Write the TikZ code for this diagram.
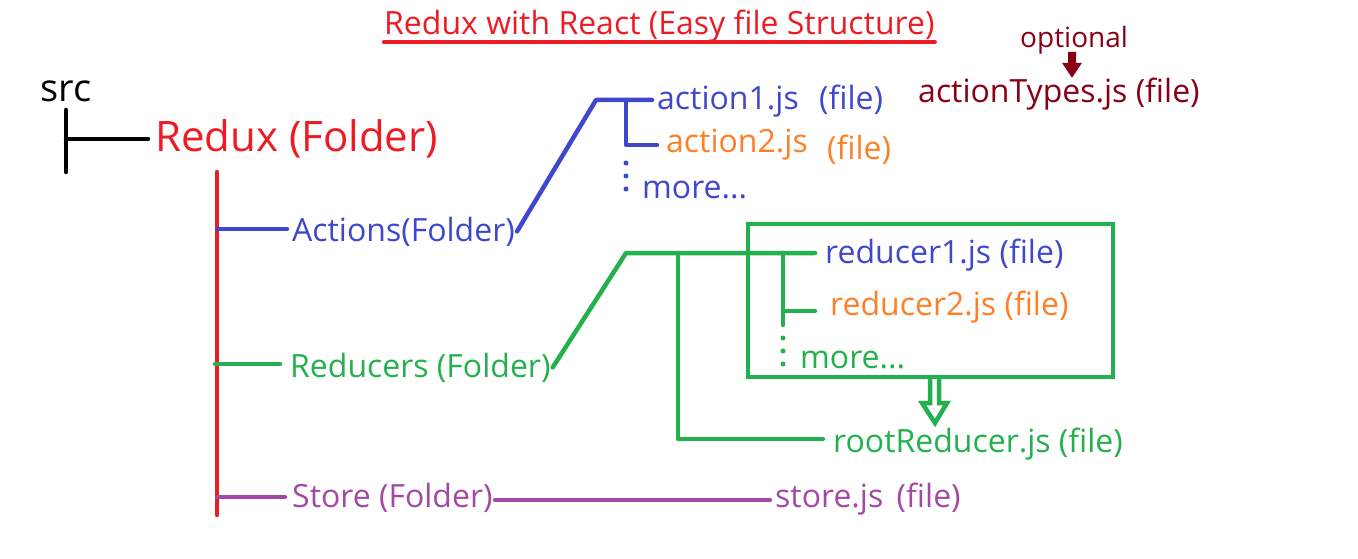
\documentclass[tikz,border=0pt]{standalone}
\usepackage{fontspec}
\setmainfont{Open Sans}
\usetikzlibrary{positioning}
\definecolor{cRed}{HTML}{ED1C24}
\definecolor{cBlue}{HTML}{3F48CC}
\definecolor{cOrange}{HTML}{FF7F27}
\definecolor{cGreen}{HTML}{22B14C}
\definecolor{cPurple}{HTML}{A349A4}
\definecolor{cMaroon}{HTML}{880015}

\begin{document}
\begin{tikzpicture}[
  x=1pt, y=-1pt,
  every node/.style={inner sep=0pt, anchor=base west},
  txt/.style={font=\fontsize{32}{38}\selectfont},
  srctxt/.style={font=\fontsize{38}{44}\selectfont},
  bigtxt/.style={font=\fontsize{42}{50}\selectfont},
  smalltxt/.style={font=\fontsize{28}{34}\selectfont},
  link/.style={line width=4.5pt, line cap=round, line join=round},
  dotline/.style={line width=5pt, line cap=round, dash pattern=on 0pt off 13pt},
  hollow/.style={line width=4.5pt, line join=miter}
]
\useasboundingbox (0,0) rectangle (1358,559);

\node[txt, text=cRed] (title) at (384,35) {Redux with React (Easy file Structure)};
\draw[link, cRed] ([yshift=-7pt]title.base west) -- ([yshift=-7pt]title.base east);

\node[srctxt] (src) at (40,102) {src};
\node[bigtxt, text=cRed] (redux) at (155,152) {Redux (Folder)};
\coordinate (srcTop) at (66,110);
\coordinate (srcMid) at (66,139);
\coordinate (srcBot) at (66,172);
\draw[link] (srcTop) -- (srcBot);
\draw[link] (srcMid) -- ([xshift=-7pt]srcMid -| redux.west);

\node[txt, text=cBlue] (actions) at (292,241) {Actions(Folder)};
\node[txt, text=cGreen] (reducers) at (290,377) {Reducers (Folder)};
\node[txt, text=cPurple] (storeF) at (292,507) {Store (Folder)};
\coordinate (redTop) at (217,172);
\coordinate (redBot) at (217,515);
\coordinate (actStub) at (217,229);
\coordinate (recStub) at (215,364);
\coordinate (stoStub) at (217,497);
\draw[link, cRed] (redTop) -- (redBot);
\draw[link, cBlue] (actStub) -- ([xshift=-5pt]actStub -| actions.west);
\draw[link, cGreen] (recStub) -- ([xshift=-10pt]recStub -| reducers.west);
\draw[link, cPurple] (stoStub) -- ([xshift=-7pt]stoStub -| storeF.west);

\node[txt, text=cBlue] (action1) at (657,110) {action1.js};
\node[txt, text=cBlue] (a1file) at ([xshift=20pt]action1.base east) {(file)};
\node[txt, text=cOrange] (action2) at (666,153) {action2.js};
\node[txt, text=cOrange] (a2file) at ([xshift=19pt, yshift=-7pt]action2.base east) {(file)};
\node[txt, text=cBlue] (moreA) at (642,198) {more...};
\coordinate (actKnee) at (596,100);
\coordinate (actV1) at (626,100);
\coordinate (actV2) at (626,145);
\coordinate (actDotA) at (626,163);
\coordinate (actDotB) at (626,190);
\draw[link, cBlue] ([xshift=2pt]actions.east) -- (actKnee) -- ([xshift=-5pt]actKnee -| action1.west);
\draw[link, cBlue] (actV1) -- (actV2) -- ([xshift=-9pt]actV2 -| action2.west);
\draw[dotline, cBlue] (actDotA) -- (actDotB);

\node[smalltxt, text=cMaroon] (optional) at (1020,48) {optional};
\node[txt, text=cMaroon] (actionTypes) at (918,103) {actionTypes.js (file)};
\draw[line width=2pt, line join=miter, cMaroon, fill=cMaroon]
  (1069,53) -- (1069,64) -- (1064,64) -- (1072,76) -- (1080,64) -- (1075,64) -- (1075,53) -- cycle;

\node[txt, text=cBlue] (reducer1) at (825,263) {reducer1.js (file)};
\node[txt, text=cOrange] (reducer2) at (830,315) {reducer2.js (file)};
\node[txt, text=cGreen] (moreR) at (800,368) {more...};
\node[txt, text=cGreen] (rootReducer) at (833,452) {rootReducer.js (file)};
\coordinate (recKnee) at (626,253);
\coordinate (recV1) at (783,253);
\coordinate (recV2) at (783,311);
\coordinate (recV3) at (783,325);
\coordinate (recDotA) at (783,338);
\coordinate (recDotB) at (783,365);
\coordinate (rootV1) at (678,253);
\coordinate (rootV2) at (678,439);
\draw[link, cGreen] ([xshift=2pt]reducers.east) -- (recKnee) -- ([xshift=-10pt]recKnee -| reducer1.west);
\draw[link, cGreen] (recV1) -- (recV3);
\draw[link, cGreen] (recV2) -- ([xshift=-15pt]recV2 -| reducer2.west);
\draw[dotline, cGreen] (recDotA) -- (recDotB);
\draw[link, cGreen] (rootV1) -- (rootV2) -- ([xshift=-10pt]rootV2 -| rootReducer.west);
\coordinate (boxNW) at (748,224);
\coordinate (boxSE) at (1113,377);
\draw[hollow, cGreen] (boxNW) rectangle (boxSE);
\draw[hollow, cGreen]
  (930,377) -- (930,403) -- (922,403) -- (935,423) -- (947,403) -- (939,403) -- (939,377);

\node[txt, text=cPurple] (storejs) at (775,507) {store.js};
\node[txt, text=cPurple] (sfile) at ([xshift=13pt]storejs.base east) {(file)};
\coordinate (stoLine) at (495,500);
\draw[link, cPurple] (stoLine) -- ([xshift=-5pt]stoLine -| storejs.west);
\end{tikzpicture}
\end{document}
